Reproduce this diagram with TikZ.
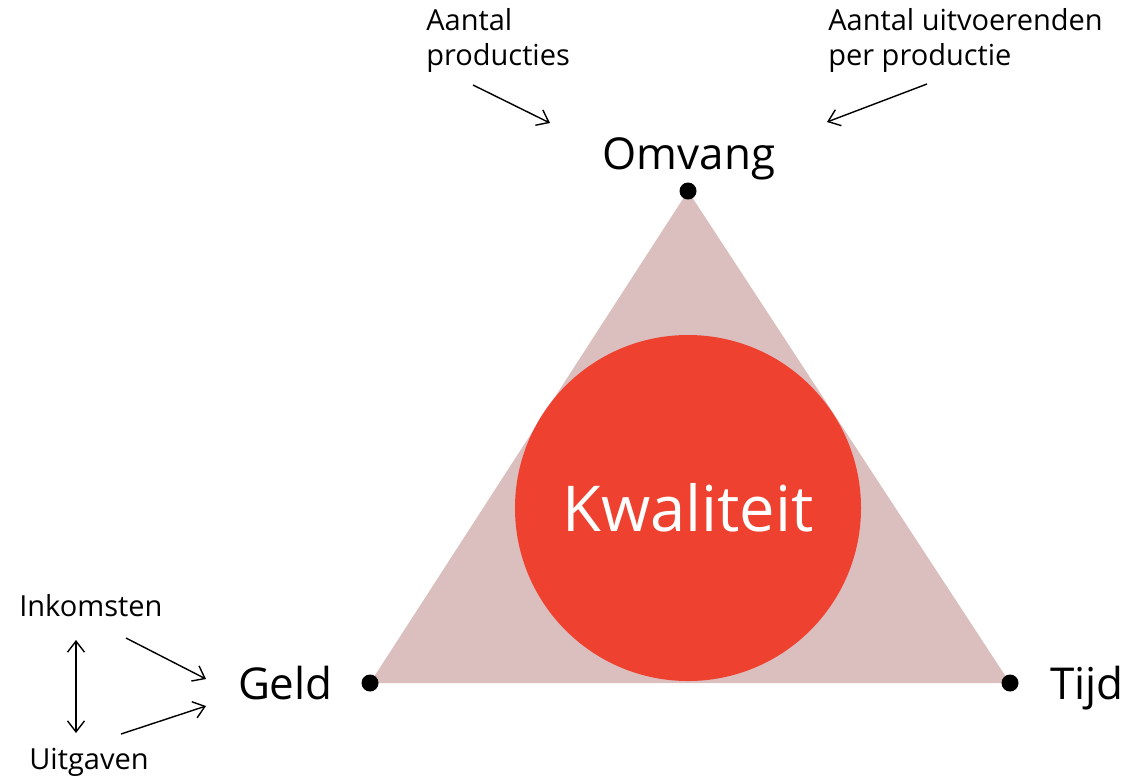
\documentclass[tikz,border=0pt]{standalone}
\usepackage{fontspec}
\setmainfont{Open Sans}
\usepackage{tikz}
\usetikzlibrary{arrows.meta, positioning, calc}

\definecolor{driehoek}{HTML}{DBBFBE}
\definecolor{kwaliteitrood}{HTML}{EE4130}

\begin{document}
\begin{tikzpicture}[
  x=0.02cm, y=-0.02cm,
  hoek/.style = {font=\fontsize{25}{28}\selectfont, inner sep=0pt},
  factor/.style = {font=\fontsize{16.5}{20}\selectfont, align=left, inner sep=0pt, anchor=north west},
  punt/.style = {circle, fill=black, minimum size=17*0.02cm, inner sep=0pt},
  pijl/.style = {thick, -{Straight Barb[length=2.2mm, width=3.4mm]}},
  dubbel/.style = {thick, {Straight Barb[length=2.2mm, width=3.4mm]}-{Straight Barb[length=2.2mm, width=3.4mm]}}
]
  \useasboundingbox (0,0) rectangle (1128,779);

  % Driehoek en cirkel
  \coordinate (top) at (688,191);
  \coordinate (links) at (370,683);
  \coordinate (rechts) at (1010,683);
  \fill[driehoek] (top) -- (links) -- (rechts) -- cycle;
  \node[circle, fill=kwaliteitrood, minimum size=346*0.02cm, inner sep=0pt] (kwaliteit) at (688,508) {};
  \node[text=white, font=\fontsize{36}{40}\selectfont] (kwaliteittekst) at (kwaliteit) {Kwaliteit};

  % Hoekpunten
  \node[punt] (omvangpunt) at (top) {};
  \node[punt] (geldpunt) at (links) {};
  \node[punt] (tijdpunt) at (rechts) {};
  \node[hoek, anchor=base] (omvang) at (689,169) {Omvang};
  \node[hoek, anchor=base east] (geld) at (333,699) {Geld};
  \node[hoek, anchor=base west] (tijd) at (1050,699) {Tijd};

  % Factoren
  \node[factor] (producties) at (426,8) {Aantal\\producties};
  \node[factor] (uitvoerenden) at (828,8) {Aantal uitvoerenden\\per productie};
  \node[factor] (inkomsten) at (19,594) {Inkomsten};
  \node[factor] (uitgaven) at (29,748) {Uitgaven};

  % Pijlen
  \coordinate (p1) at (473,85);   \coordinate (p1e) at (550,123);
  \coordinate (p2) at (927,84);   \coordinate (p2e) at (827,122);
  \coordinate (p3) at (126,638);  \coordinate (p3e) at (206,679);
  \coordinate (p4) at (121,734);  \coordinate (p4e) at (206,706);
  \coordinate (d1) at (76,640);   \coordinate (d2) at (76,733);
  \draw[pijl] (p1) -- (p1e);
  \draw[pijl] (p2) -- (p2e);
  \draw[pijl] (p3) -- (p3e);
  \draw[pijl] (p4) -- (p4e);
  \draw[dubbel] (d1) -- (d2);

\end{tikzpicture}
\end{document}
